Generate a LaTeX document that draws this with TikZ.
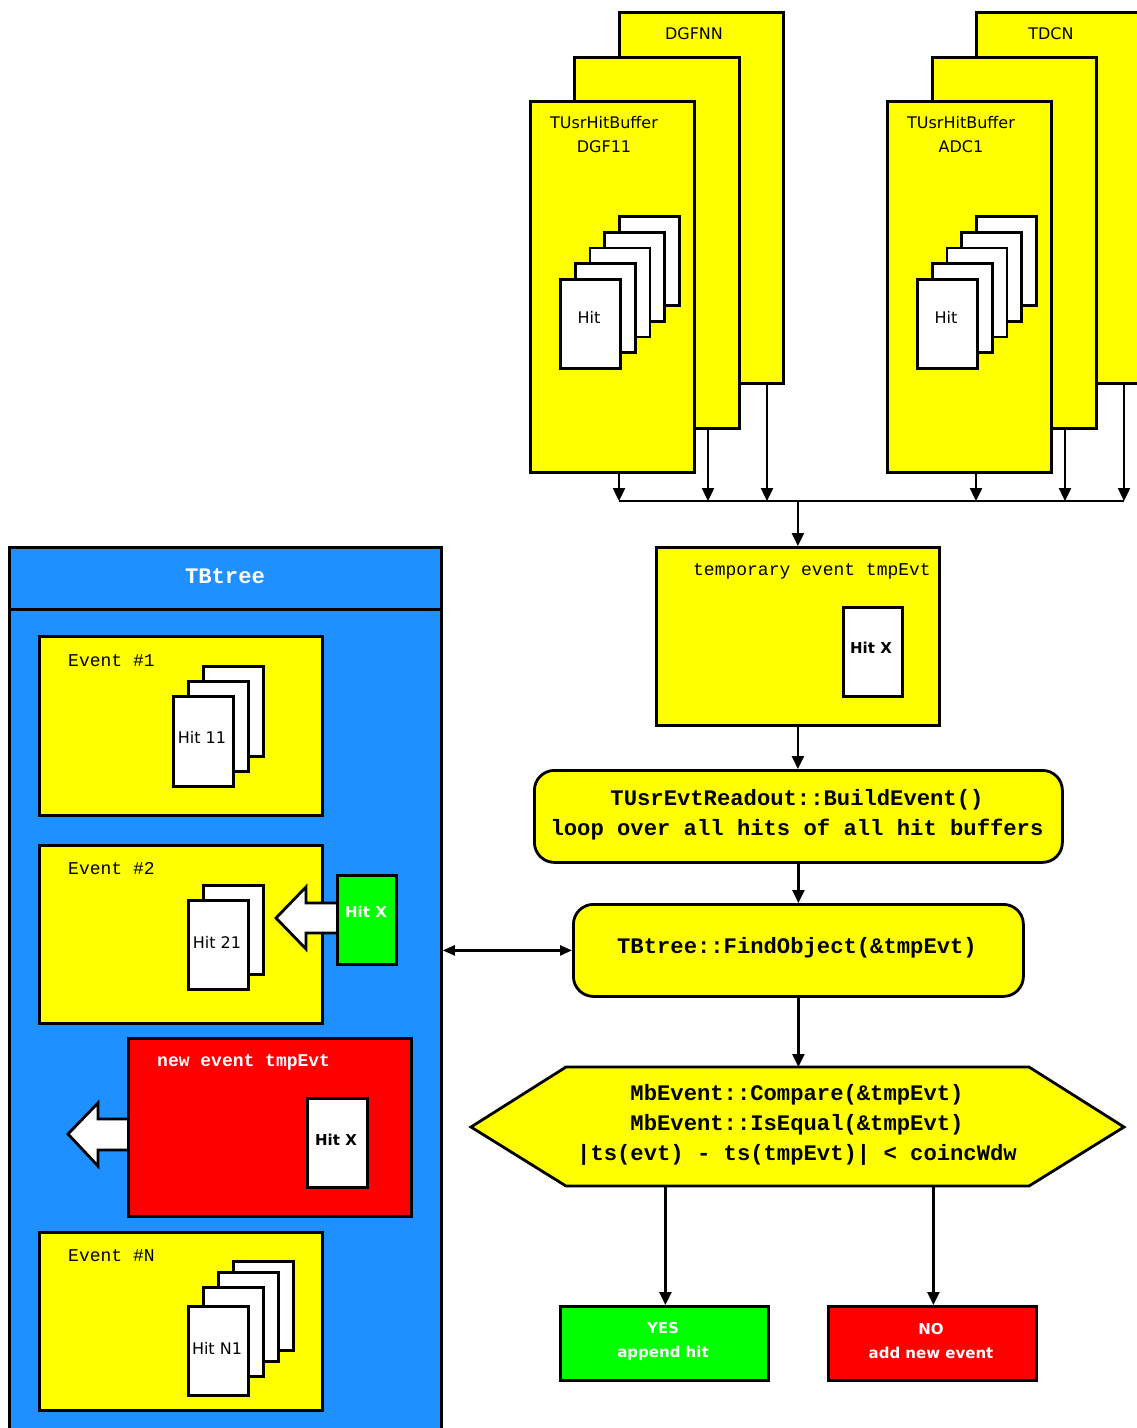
\documentclass[tikz,border=0pt]{standalone}
\usepackage{fontspec}
\newfontfamily\sansf{DejaVu Sans}
\newfontfamily\monof{Liberation Mono}
\usetikzlibrary{arrows.meta}
\definecolor{yel}{HTML}{FFFF00}
\definecolor{tbblue}{HTML}{1E90FF}
\definecolor{grn}{HTML}{00FF00}
\definecolor{rd}{HTML}{FF0000}
\tikzset{
  box/.style={draw, line width=2.8pt, rectangle, inner sep=0pt, anchor=north west},
  ybox/.style={box, fill=yel},
  sheet/.style={box, fill=white, minimum width=60pt, minimum height=89pt},
  arr/.style={line width=2.4pt, -{Triangle[width=12pt,length=13pt]}},
  dbl/.style={line width=2.4pt, {Triangle[width=10pt,length=12pt]}-{Triangle[width=10pt,length=12pt]}},
  bus/.style={line width=2.4pt},
  lbl/.style={inner sep=0pt, font=\sansf\fontsize{16}{24}\selectfont, align=center},
  blbl/.style={inner sep=0pt, font=\sansf\bfseries\fontsize{15}{24}\selectfont, align=center},
  mono/.style={inner sep=0pt, font=\monof\fontsize{18}{22}\selectfont},
  bmono/.style={inner sep=0pt, font=\monof\bfseries\fontsize{22.2}{30}\selectfont, align=center},
  smono/.style={inner sep=0pt, font=\monof\bfseries\fontsize{18}{22}\selectfont},
  barrow/.style={line width=2.8pt, fill=white, line join=miter},
}
\begin{document}
\begin{tikzpicture}[x=1pt,y=-1pt]
\useasboundingbox (0,0) rectangle (1137,1428);
\clip (0,0) rectangle (1137,1428);

% ---------------- DGF hit buffers ----------------
\node[ybox, minimum width=164pt, minimum height=371pt] (dgf3) at (618,11) {};
\node[lbl] (dgf3t) at (694,34) {DGFNN};
\node[ybox, minimum width=165pt, minimum height=371pt] (dgf2) at (573,56) {};
\node[ybox, minimum width=164pt, minimum height=371pt] (dgf1) at (529,100) {};
\node[lbl] (dgf1t) at (604,135) {TUsrHitBuffer\\DGF11};
\foreach \k in {4,3,2,1}{
  \node[sheet] (dh\k) at ({559+14.75*\k},{278-15.75*\k}) {};
}
\node[sheet] (dh0) at (559,278) {};
\node[lbl] (dh0t) at (589,317) {Hit};

% ---------------- TDC/ADC hit buffers ----------------
\node[ybox, minimum width=164pt, minimum height=371pt] (tdc3) at (975,11) {};
\node[lbl] (tdc3t) at (1051,34) {TDCN};
\node[ybox, minimum width=164pt, minimum height=371pt] (tdc2) at (931,56) {};
\node[ybox, minimum width=164pt, minimum height=371pt] (tdc1) at (886,100) {};
\node[lbl] (tdc1t) at (961,135) {TUsrHitBuffer\\ADC1};
\foreach \k in {4,3,2,1}{
  \node[sheet] (th\k) at ({916+14.75*\k},{278-15.75*\k}) {};
}
\node[sheet] (th0) at (916,278) {};
\node[lbl] (th0t) at (946,317) {Hit};

% ---------------- bus ----------------
\coordinate (b1) at (619,501);
\coordinate (b2) at (708,501);
\coordinate (b3) at (767,501);
\coordinate (b4) at (976,501);
\coordinate (b5) at (1065,501);
\coordinate (b6) at (1124,501);
\coordinate (bm) at (797,501);
\draw[arr] (dgf1.south -| b1) -- (b1);
\draw[arr] (dgf2.south -| b2) -- (b2);
\draw[arr] (dgf3.south -| b3) -- (b3);
\draw[arr] (tdc1.south -| b4) -- (b4);
\draw[arr] (tdc2.south -| b5) -- (b5);
\draw[arr] (tdc3.south -| b6) -- (b6);
\draw[bus] (b1) -- (b6);

% ---------------- temporary event ----------------
\node[ybox, minimum width=283pt, minimum height=178pt] (tmp) at (655,546) {};
\node[mono] (tmpt) at (812,571) {temporary event tmpEvt};
\node[sheet, minimum width=59pt] (tmphit) at (842,606) {};
\node[blbl] (tmphitt) at (871,648) {Hit X};
\draw[arr] (tmp.north |- bm) -- (tmp.north);

% ---------------- flow ----------------
\node[ybox, rounded corners=20pt, minimum width=528pt, minimum height=92pt] (build) at (533,769) {};
\node[bmono] (buildt) at (797,814.5) {TUsrEvtReadout::BuildEvent()\\loop over all hits of all hit buffers};
\node[ybox, rounded corners=20pt, minimum width=450pt, minimum height=92pt] (find) at (572,903) {};
\node[bmono] (findt) at (797,948) {TBtree::FindObject(\&tmpEvt)};

\coordinate (hexT) at (797,1067);
\coordinate (hexB) at (797,1186);
\draw[line width=2.8pt, fill=yel, line join=miter] (471,1127) -- (566,1067) -- (1029,1067) -- (1124,1127) -- (1029,1186) -- (566,1186) -- cycle;
\node[bmono] (hext) at (797,1125) {MbEvent::Compare(\&tmpEvt)\\MbEvent::IsEqual(\&tmpEvt)\\|ts(evt) - ts(tmpEvt)| < coincWdw};

\node[box, fill=grn, minimum width=208pt, minimum height=74pt] (yes) at (559,1305) {};
\node[blbl, text=white] (yest) at (663,1341) {YES\\append hit};
\node[box, fill=rd, minimum width=208pt, minimum height=74pt] (no) at (827,1305) {};
\node[blbl, text=white] (not) at (931,1341) {NO\\add new event};

\draw[arr] (tmp.south) -- (tmp.south |- build.north);
\draw[arr] (build.south) -- (find.north);
\draw[arr] (find.south) -- (find.south |- hexT);
\draw[arr] ([xshift=1pt]yes.north |- hexB) -- ([xshift=1pt]yes.north);
\draw[arr] ([xshift=1pt]no.north |- hexB) -- ([xshift=1pt]no.north);

% ---------------- TBtree ----------------
\node[box, fill=tbblue, minimum width=432pt, minimum height=904pt] (tbtree) at (8,546) {};
\node[box, fill=tbblue, minimum width=432pt, minimum height=62pt] (tbhead) at (8,546) {};
\node[bmono, text=white] (tbheadt) at (225,576) {TBtree};
\draw[dbl] (tbtree.east |- find.west) -- (find.west);

% Event #1
\node[ybox, minimum width=283pt, minimum height=179pt] (ev1) at (38,635) {};
\node[mono, anchor=west] (ev1t) at (68,661) {Event \#1};
\node[sheet, minimum height=90pt] (e1h3) at (202,665) {};
\node[sheet, minimum height=90pt] (e1h2) at (187,680) {};
\node[sheet, minimum height=90pt] (e1h1) at (172,695) {};
\node[lbl] (e1h1t) at (202,737) {Hit 11};

% Event #2
\node[ybox, minimum width=283pt, minimum height=178pt] (ev2) at (38,844) {};
\node[mono, anchor=west] (ev2t) at (68,869) {Event \#2};
\node[sheet] (e2h2) at (202,884) {};
\node[sheet] (e2h1) at (187,899) {};
\node[lbl] (e2h1t) at (217,942) {Hit 21};
\draw[barrow] (336,903) -- (306,903) -- (306,887) -- (276,918) -- (306,949) -- (306,933) -- (336,933);
\node[box, fill=grn, minimum width=59pt, minimum height=89pt] (gx) at (336,874) {};
\node[blbl, text=white] (gxt) at (366,912) {Hit X};

% new event
\draw[barrow] (127,1119) -- (98,1119) -- (98,1103) -- (68,1134) -- (98,1166) -- (98,1150) -- (127,1150);
\node[box, fill=rd, minimum width=283pt, minimum height=178pt] (newev) at (127,1037) {};
\node[smono, text=white, anchor=west] (newevt) at (157,1062) {new event tmpEvt};
\node[sheet] (nh) at (306,1097) {};
\node[blbl] (nht) at (336,1140) {Hit X};

% Event #N
\node[ybox, minimum width=283pt, minimum height=178pt] (evn) at (38,1231) {};
\node[mono, anchor=west] (evnt) at (68,1256) {Event \#N};
\node[sheet] (enh4) at (232,1260) {};
\node[sheet] (enh3) at (217,1271) {};
\node[sheet] (enh2) at (202,1286) {};
\node[sheet] (enh1) at (187,1305) {};
\node[lbl] (enh1t) at (217,1348) {Hit N1};
\end{tikzpicture}
\end{document}
